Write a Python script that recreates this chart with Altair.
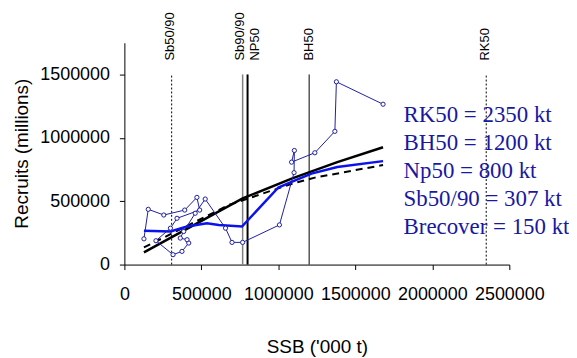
import altair as alt
import pandas as pd

# Observed stock-recruit pairs (time order)
obs_ssb = [127000, 155000, 256000, 392000, 471000, 489000, 342000, 299000, 205000,
           316000, 374000, 418000, 407000, 363000, 385000, 460000, 525000, 657000,
           699000, 768000, 1007000, 1102000, 1104000, 1086000, 1237000, 1367000,
           1377000, 1680000]
obs_rec = [203000, 436000, 391000, 430000, 530000, 430000, 365000, 287000, 188000,
           78000, 104000, 170000, 196000, 209000, 261000, 405000, 517000, 287000,
           175000, 175000, 313000, 725000, 900000, 808000, 882000, 1051000,
           1442000, 1265000]

# Fitted curves
seg_ssb = [127000, 768000, 1086000, 1383000, 1680000]
seg_rec = [96000, 522000, 678000, 808000, 926000]

bh_ssb = [127000, 678000, 1097000, 1237000, 1680000]
bh_rec = [135000, 470000, 641000, 686000, 785000]

lo_ssb = [127000, 299000, 407000, 536000, 613000, 764000, 1000000, 1086000,
          1215000, 1383000, 1680000]
lo_rec = [266000, 261000, 300000, 326000, 313000, 300000, 608000, 652000,
          718000, 769000, 816000]

# Reference points
ref_names = ["Sb50/90", "Sb90/90", "NP50", "BH50", "RK50"]
ref_vals = [307000, 768000, 800000, 1200000, 2350000]

notes = ["RK50 = 2350 kt", "BH50 = 1200 kt", "Np50 = 800 kt",
         "Sb50/90 = 307 kt", "Brecover = 150 kt"]

x_ticks = [0, 500000, 1000000, 1500000, 2000000, 2500000]
y_ticks = [0, 500000, 1000000, 1500000]

FONT = "Liberation Sans"
XSC = alt.Scale(domain=[0, 2500000], nice=False, zero=True)
YSC = alt.Scale(domain=[0, 1750000], nice=False, zero=True)
XAX = alt.Axis(title="SSB ('000 t)", values=x_ticks, format="d", grid=False,
               domainColor="black", tickColor="black", tickSize=5,
               labelFont=FONT, labelFontSize=18, labelColor="black",
               labelPadding=16, labelFlush=False, labelOverlap=False,
               titleFont=FONT, titleFontSize=19, titleFontWeight="normal",
               titleColor="black", titleY=88, titleBaseline="alphabetic")
YAX = alt.Axis(title="Recruits (millions)", values=y_ticks, format="d", grid=False,
               domainColor="black", tickColor="black", tickSize=5,
               labelFont=FONT, labelFontSize=18, labelColor="black",
               labelPadding=10, labelOverlap=False,
               titleFont=FONT, titleFontSize=19, titleFontWeight="normal",
               titleColor="black", titleX=-97, titleY=111, titleAngle=270,
               titleBaseline="alphabetic", titleAlign="center")


def X(f):
    return alt.X(f, type="quantitative", scale=XSC, axis=XAX)


def Y(f):
    return alt.Y(f, type="quantitative", scale=YSC, axis=YAX)


obs_df = pd.DataFrame({"SSB": obs_ssb, "R": obs_rec, "i": list(range(len(obs_ssb)))})
seg_df = pd.DataFrame({"SSB": seg_ssb, "R": seg_rec})
bh_df = pd.DataFrame({"SSB": bh_ssb, "R": bh_rec})
lo_df = pd.DataFrame({"SSB": lo_ssb, "R": lo_rec})
ref_df = pd.DataFrame({"SSB": ref_vals, "name": ref_names})
one_df = pd.DataFrame({"k": [0]})

layers = []

# reference rules
rule_styles = {
    "Sb50/90": dict(color="black", strokeWidth=1, strokeDash=[2, 2]),
    "Sb90/90": dict(color="#808080", strokeWidth=1.5),
    "NP50": dict(color="black", strokeWidth=2),
    "BH50": dict(color="black", strokeWidth=1),
    "RK50": dict(color="black", strokeWidth=1, strokeDash=[2, 2]),
}
label_dy = {"Sb50/90": -2, "Sb90/90": -3, "NP50": 7, "BH50": 0, "RK50": -1}
for nm in ref_names:
    sub = ref_df[ref_df["name"] == nm]
    layers.append(alt.Chart(sub).mark_rule(**rule_styles[nm]).encode(
        x=X("SSB"), y=alt.datum(0), y2=alt.datum(1500000)))
    layers.append(alt.Chart(sub).mark_text(
        angle=270, align="left", baseline="middle", font=FONT, fontSize=13,
        color="black", dy=label_dy[nm]).encode(
        x=X("SSB"), y=alt.datum(1610000), text="name:N"))

layers.append(alt.Chart(bh_df).mark_line(color="black", strokeWidth=2,
                                         strokeDash=[7, 5]).encode(x=X("SSB"), y=Y("R")))
layers.append(alt.Chart(seg_df).mark_line(color="black", strokeWidth=2.5).encode(
    x=X("SSB"), y=Y("R")))
layers.append(alt.Chart(lo_df).mark_line(color="#0a12f0", strokeWidth=2.5).encode(
    x=X("SSB"), y=Y("R")))
layers.append(alt.Chart(obs_df).mark_line(
    color="#1f1f9f", strokeWidth=1,
    point=alt.OverlayMarkDef(shape="circle", filled=False, fill="white",
                             size=18, stroke="#1f1f9f", strokeWidth=1)).encode(
    x=X("SSB"), y=Y("R"), order=alt.Order("i:Q")))

layers.append(alt.Chart(one_df).mark_text(
    text=notes, lineHeight=28, font="Liberation Serif", fontSize=23,
    color="#1818a0", align="left", baseline="alphabetic").encode(
    x=alt.datum(1813000), y=alt.datum(1121000)))

chart = alt.layer(*layers).properties(
    width=387, height=223,
    autosize=alt.AutoSizeParams(type="none"),
    padding={"left": 117, "top": 34, "right": 60, "bottom": 95},
).configure_view(stroke=None)

chart.save("out.html", embed_options={"renderer": "svg", "actions": False})
